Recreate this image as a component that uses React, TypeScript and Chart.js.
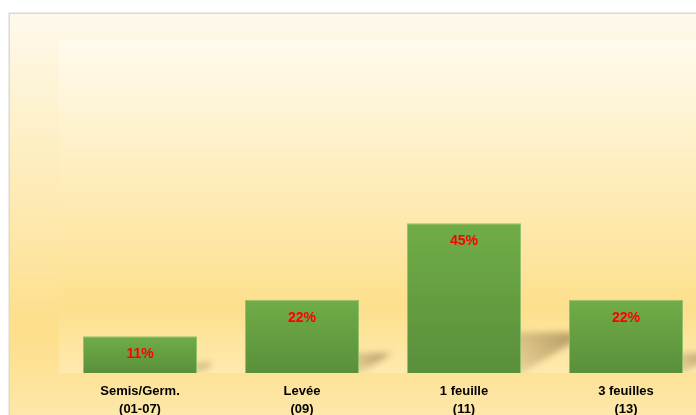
import React, { useEffect, useRef } from "react";
import { Chart, registerables } from "chart.js";

Chart.register(...registerables);

const categories: string[][] = [
  ["Semis/Germ.", "(01-07)"],
  ["Levée", "(09)"],
  ["1 feuille", "(11)"],
  ["3 feuilles", "(13)"],
];
const values: number[] = [11, 22, 45, 22];
const valueLabels: string[] = ["11%", "22%", "45%", "22%"];

const W = 740;
const H = 430;

const backgroundPlugin = {
  id: "bgPlugin",
  beforeDraw(chart: any) {
    const { ctx, chartArea } = chart;
    ctx.save();
    const og = ctx.createLinearGradient(0, 5, 0, H);
    og.addColorStop(0, "#fef9ec");
    og.addColorStop(0.74, "#fddf8b");
    og.addColorStop(0.86, "#fde39a");
    og.addColorStop(1, "#fdebb4");
    ctx.fillStyle = og;
    ctx.fillRect(1, 5, W + 10, H);
    ctx.strokeStyle = "#d9d9d9";
    ctx.lineWidth = 1.5;
    ctx.strokeRect(1.25, 5.25, W + 20, H + 20);
    const { left, top, right, bottom } = chartArea;
    const pg = ctx.createLinearGradient(0, top, 0, bottom);
    pg.addColorStop(0, "#fffbee");
    pg.addColorStop(0.8, "#fde08d");
    pg.addColorStop(1, "#fdeaae");
    ctx.fillStyle = pg;
    ctx.fillRect(left, top, right - left, bottom - top);
    ctx.restore();
  },
  beforeDatasetsDraw(chart: any) {
    const { ctx, chartArea } = chart;
    const meta = chart.getDatasetMeta(0);
    ctx.save();
    ctx.beginPath();
    ctx.rect(chartArea.left, chartArea.top, chartArea.right - chartArea.left, chartArea.bottom - chartArea.top);
    ctx.clip();
    ctx.filter = "blur(3px)";
    meta.data.forEach((bar: any) => {
      const p = bar.getProps(["x", "y", "base", "width"], true);
      const l = p.x - p.width / 2;
      const r = p.x + p.width / 2;
      const h = p.base - p.y;
      const dx = 0.46 * h;
      const dy = 0.27 * h;
      if (![l, r, h, p.base].every(Number.isFinite)) return;
      const g = ctx.createLinearGradient(r, p.base, r + dx, p.base - dy);
      g.addColorStop(0, "rgba(140,115,70,0.2)");
      g.addColorStop(0.75, "rgba(140,115,70,0.6)");
      g.addColorStop(1, "rgba(140,115,70,0.3)");
      ctx.fillStyle = g;
      ctx.beginPath();
      ctx.moveTo(l, p.base);
      ctx.lineTo(r, p.base);
      ctx.lineTo(r + dx, p.base - dy);
      ctx.lineTo(l + dx, p.base - dy);
      ctx.closePath();
      ctx.fill();
    });
    ctx.restore();
  },
  afterDatasetsDraw(chart: any) {
    const { ctx } = chart;
    const meta = chart.getDatasetMeta(0);
    ctx.save();
    ctx.fillStyle = "#ff0000";
    ctx.font = "bold 14px 'Liberation Sans', Arial, sans-serif";
    ctx.textAlign = "center";
    ctx.textBaseline = "middle";
    meta.data.forEach((bar: any, i: number) => {
      const p = bar.getProps(["x", "y"], true);
      ctx.fillText(valueLabels[i], p.x, p.y + 18);
    });
    ctx.restore();
  },
};

export default function App() {
  const ref = useRef<HTMLCanvasElement | null>(null);
  useEffect(() => {
    if (!ref.current) return;
    const chart = new Chart(ref.current, {
      type: "bar",
      data: {
        labels: categories,
        datasets: [
          {
            data: values,
            backgroundColor: (c: any) => {
              const ch = c.chart;
              if (c.type !== "data" || !ch.scales || !ch.scales.y) return "#66a040";
              const y = ch.scales.y;
              const t = y.getPixelForValue(c.raw);
              const b = y.getPixelForValue(0);
              if (!Number.isFinite(t) || !Number.isFinite(b) || t === b) return "#66a040";
              const g = ch.ctx.createLinearGradient(0, t, 0, b);
              g.addColorStop(0, "#70ad47");
              g.addColorStop(1, "#5a8f3b");
              return g;
            },
            borderColor: "rgba(140,190,105,0.9)",
            borderWidth: 1,
            barPercentage: 1,
            categoryPercentage: 0.704,
          },
        ],
      },
      options: {
        responsive: false,
        animation: false,
        devicePixelRatio: 1,
        layout: { padding: { left: 51, top: 32, right: W - 699, bottom: 15 } },
        plugins: { legend: { display: false }, tooltip: { enabled: false } },
        scales: {
          y: { display: false, min: 0, max: 100 },
          x: {
            grid: { display: false, drawTicks: false },
            border: { display: false },
            ticks: {
              color: "#000000",
              padding: 9,
              maxRotation: 0,
              autoSkip: false,
              font: { family: "'Liberation Sans', Arial, sans-serif", size: 13, weight: "bold", lineHeight: "18px" },
            },
            afterFit: (s: any) => {
              s.height = 50;
            },
          },
        },
      },
      plugins: [backgroundPlugin],
    });
    return () => chart.destroy();
  }, []);
  return (
    <div style={{ position: "fixed", left: 0, top: 0, width: "100vw", height: "100vh", overflow: "hidden" }}>
      <canvas
        ref={ref}
        width={W}
        height={H}
        style={{ position: "absolute", left: 8, top: 8, width: W, height: H, display: "block" }}
      />
    </div>
  );
}
